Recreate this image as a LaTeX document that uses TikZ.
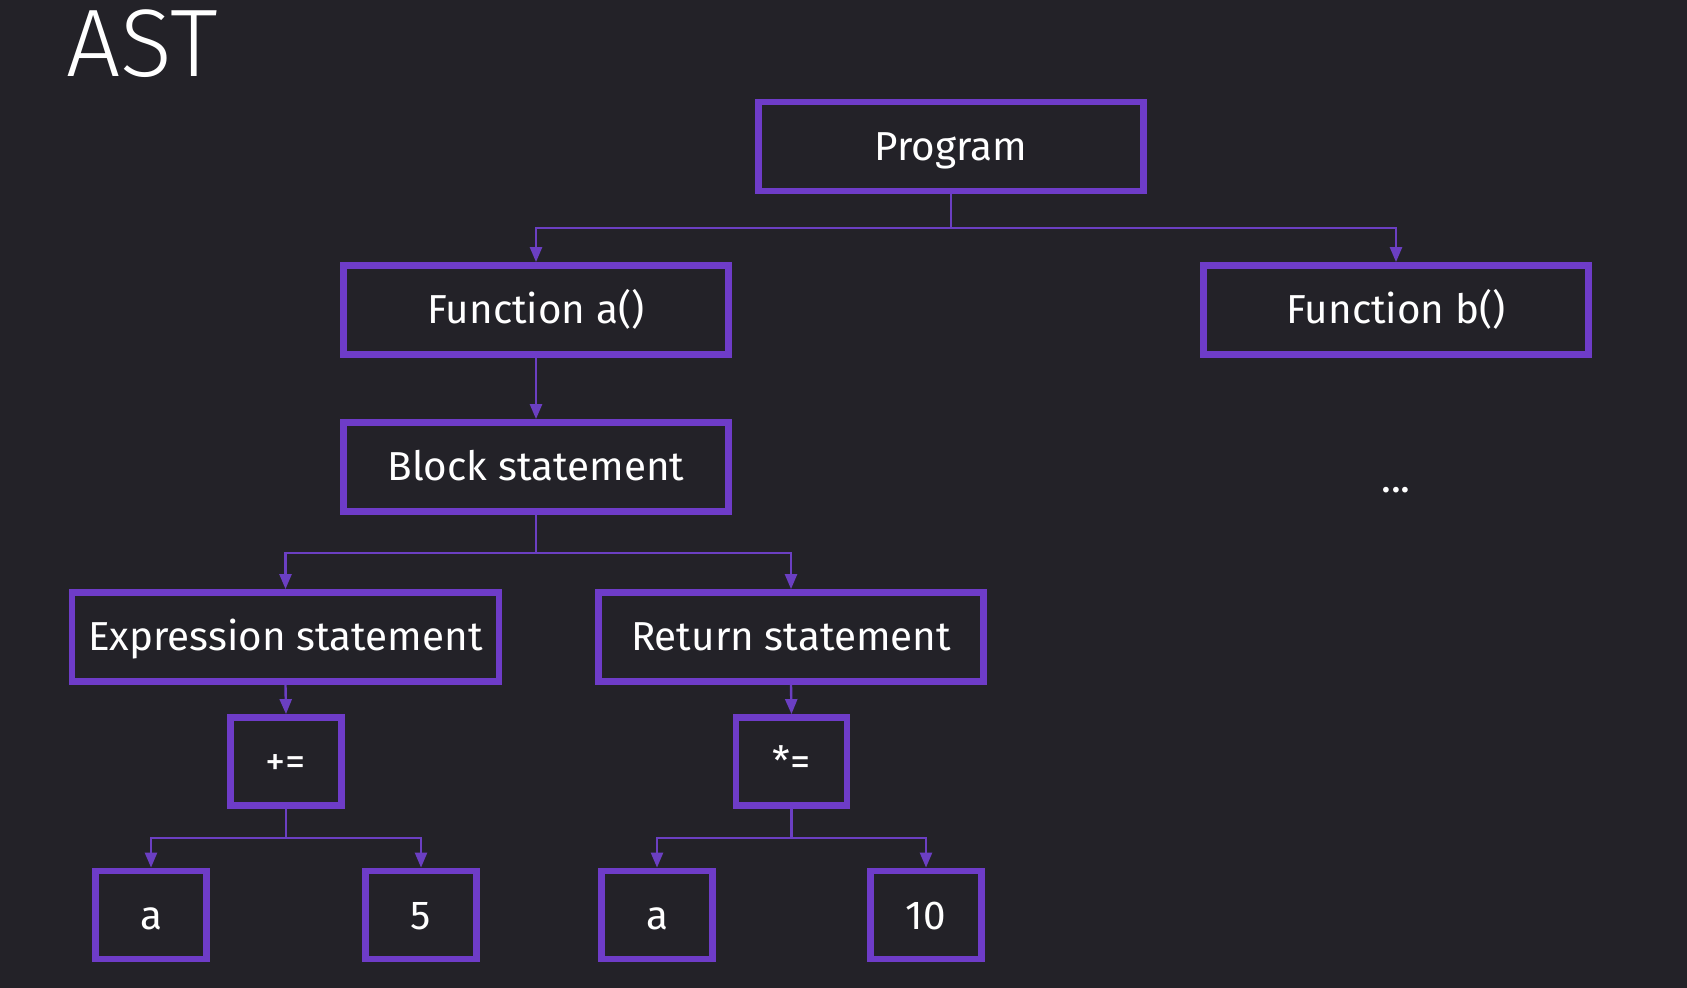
\documentclass[tikz,border=0pt]{standalone}
\usepackage{fontspec}
\setmainfont{Fira Sans}
\newfontfamily\astfont{Fira Sans}[UprightFont=* Light]
\usetikzlibrary{arrows.meta}
\definecolor{bg}{HTML}{232228}
\definecolor{purp}{HTML}{6E3CC8}
\definecolor{conncol}{HTML}{6B3FC2}
\tikzset{
  box/.style={draw=purp, line width=3.4pt, text=white, font=\fontsize{20.2}{24}\selectfont, inner sep=0pt, text height=14pt, text depth=0pt},
  bigbox/.style={box, minimum width=192.5pt, minimum height=44.5pt},
  widebox/.style={box, minimum width=213.5pt, minimum height=44.5pt},
  smallbox/.style={box, minimum width=55.5pt, minimum height=44pt},
  conn/.style={draw=conncol, line width=1.2pt, -{Triangle[length=7.5pt,width=6pt]}},
}
\begin{document}
\begin{tikzpicture}[x=0.5pt,y=-0.5pt]
\fill[bg] (0,0) rectangle (1687,988);
\useasboundingbox (0,0) rectangle (1687,988);
\node[anchor=base west, text=white, font=\astfont\fontsize{48}{52}\selectfont, inner sep=0pt] (title) at (66,77) {AST};

\node[bigbox] (prog) at (951,146.5) {Program};
\node[bigbox] (fa) at (536,310) {Function a()};
\node[bigbox] (fb) at (1396,310) {Function b()};
\node[bigbox] (blk) at (536,467) {Block statement};
\node[widebox] (expr) at (285.5,637) {Expression statement};
\node[bigbox] (ret) at (791,637) {Return statement};
\node[smallbox] (pe) at (286,761.5) {+=};
\node[smallbox] (me) at (791.5,761.5) {*=};
\node[smallbox] (a1) at (151,915) {a};
\node[smallbox] (n5) at (421,915) {5};
\node[smallbox] (a2) at (657,915) {a};
\node[smallbox] (n10) at (926,915) {10};
\node[text=white, font=\fontsize{20.5}{24}\selectfont, inner sep=0pt] (dots) at (1396,490) {...};

\draw[conn] (prog.south) -- (prog.south |- 0,228) -| (fa.north);
\draw[conn] (prog.south) -- (prog.south |- 0,228) -| (fb.north);
\draw[conn] (fa.south) -- (blk.north);
\draw[conn] (blk.south) -- (blk.south |- 0,553) -| (expr.north);
\draw[conn] (blk.south) -- (blk.south |- 0,553) -| (ret.north);
\draw[conn] (expr.south) -- (pe.north);
\draw[conn] (ret.south) -- (me.north);
\draw[conn] (pe.south) -- (pe.south |- 0,838) -| (a1.north);
\draw[conn] (pe.south) -- (pe.south |- 0,838) -| (n5.north);
\draw[conn] (me.south) -- (me.south |- 0,838) -| (a2.north);
\draw[conn] (me.south) -- (me.south |- 0,838) -| (n10.north);
\end{tikzpicture}
\end{document}
